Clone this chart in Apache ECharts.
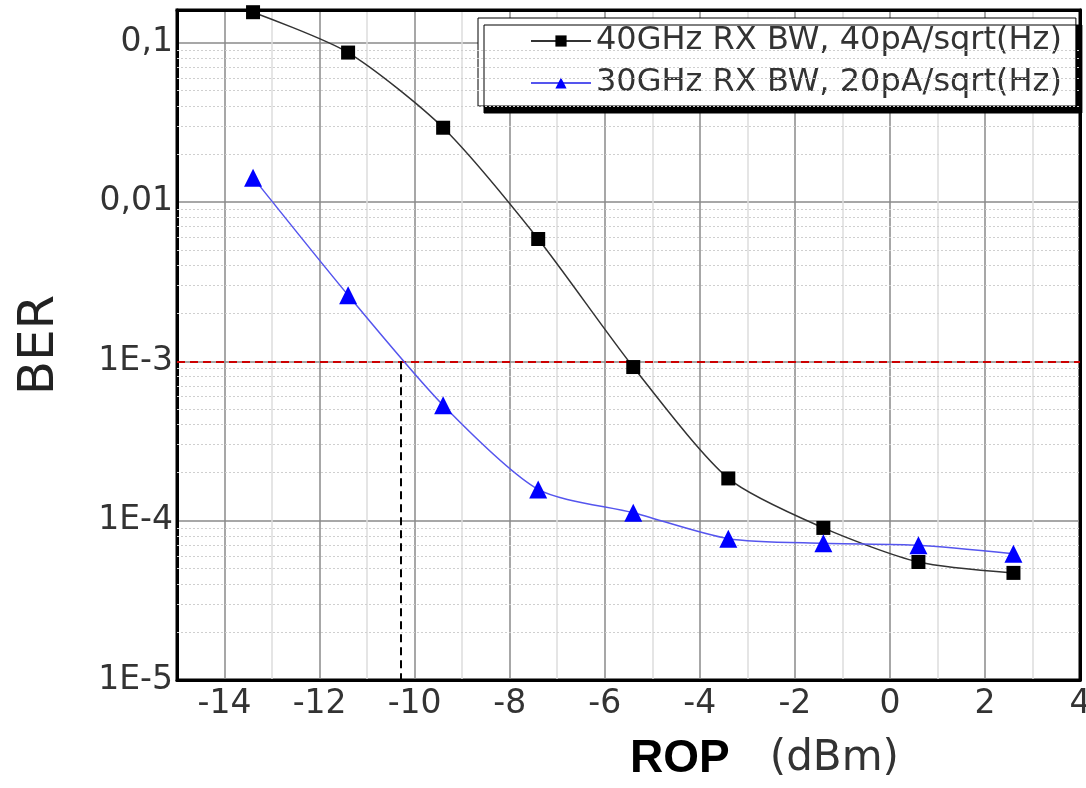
<!DOCTYPE html>
<html>
<head>
<meta charset="utf-8">
<script src="https://cdn.jsdelivr.net/npm/echarts@6/dist/echarts.min.js"></script>
<style>
  html, body { margin: 0; padding: 0; background: #fff; }
  #chart { width: 1086px; height: 788px; }
</style>
</head>
<body>
<div id="chart"></div>
<script>
// ROP in dBm, same for both curves
var rop = [-13.4, -11.4, -9.4, -7.4, -5.4, -3.4, -1.4, 0.6, 2.6];
var ber40 = [0.155, 0.0865, 0.0292, 0.00585, 9.2e-4, 1.84e-4, 9.0e-5, 5.5e-5, 4.7e-5];
var ber30 = [0.0142, 0.0026, 5.3e-4, 1.57e-4, 1.12e-4, 7.7e-5, 7.2e-5, 7.0e-5, 6.2e-5];
var names = ['40GHz RX BW, 40pA/sqrt(Hz)', '30GHz RX BW, 20pA/sqrt(Hz)'];

var xMin = -15, xMax = 4;
var yMin = 1e-5, yMax = 0.16;
var berLimit = 1e-3;     // FEC threshold (red dashed)
var ropAtLimit = -10.3;  // where the blue curve crosses it

function pairs(xs, ys) {
  var res = [];
  for (var i = 0; i < xs.length; i++) res.push([xs[i], ys[i]]);
  return res;
}

function hLine(v, style) {
  return [{ coord: [xMin, v], lineStyle: style }, { coord: [xMax, v] }];
}

// dotted log minor grid 2..9 per decade
var minorLines = [];
for (var k = -5; k <= -1; k++) {
  for (var m = 2; m <= 9; m++) {
    var v = m * Math.pow(10, k);
    if (v < yMax) minorLines.push(hLine(v, { color: '#cfcfcf', type: [2, 2], width: 1 }));
  }
}

var chart = echarts.init(document.getElementById('chart'));
var font = 'DejaVu Sans';
var frameLine = { show: true, onZero: false, lineStyle: { color: '#000', width: 3 } };

var option = {
  backgroundColor: '#fff',
  animation: false,
  grid: {
    left: 177, top: 10, right: 6, bottom: 108,
    outerBoundsMode: 'none',
    containLabel: false,
    show: true, borderColor: '#000', borderWidth: 3, backgroundColor: '#fff'
  },
  legend: {
    orient: 'vertical',
    left: 478, top: 18,
    padding: [7, 14, 7, 52],
    itemGap: 10,
    itemWidth: 60, itemHeight: 14,
    backgroundColor: '#fff',
    borderColor: '#000', borderWidth: 1,
    shadowColor: '#000', shadowBlur: 0, shadowOffsetX: 6, shadowOffsetY: 7,
    textStyle: { fontFamily: font, fontSize: 32, color: '#333' },
    data: names
  },
  xAxis: [{
    type: 'value',
    min: xMin, max: xMax, interval: 1,
    axisLine: frameLine,
    axisTick: { show: false },
    axisLabel: {
      fontFamily: font, fontSize: 33, color: '#333', margin: 8,
      formatter: function (v) { return (v % 2 === 0) ? String(v) : ''; }
    },
    splitLine: { show: true, lineStyle: { color: ['#dcdcdc', '#8a8a8a'], width: 1.5 } },
    name: '{b|ROP}   (dBm)',
    nameLocation: 'middle',
    nameGap: 56,
    nameTextStyle: {
      fontFamily: font, fontSize: 42, color: '#333',
      padding: [0, 0, 0, 272],
      rich: { b: { fontFamily: 'Liberation Sans', fontWeight: 'bold', fontSize: 46, color: '#000' } }
    }
  }, {
    type: 'value', position: 'top',
    min: xMin, max: xMax, interval: 1,
    axisLine: frameLine, axisTick: { show: false },
    axisLabel: { show: false }, splitLine: { show: false }
  }],
  yAxis: [{
    type: 'log',
    logBase: 10,
    min: yMin, max: yMax,
    axisLine: frameLine,
    axisTick: { show: false },
    axisLabel: {
      fontFamily: font, fontSize: 33, color: '#333', margin: 4,
      formatter: function (v) {
        var k = Math.log10(v), r = Math.round(k);
        if (Math.abs(k - r) > 0.01) return '';
        if (r === -1) return '0,1';
        if (r === -2) return '0,01';
        return '1E' + r;
      }
    },
    splitLine: { show: true, lineStyle: { color: '#8a8a8a', width: 1.5 } },
    name: 'BER',
    nameLocation: 'middle',
    nameRotate: 90,
    nameGap: 112,
    nameTextStyle: { fontFamily: font, fontSize: 50, color: '#222' }
  }, {
    type: 'log', logBase: 10, position: 'right',
    min: yMin, max: yMax,
    axisLine: frameLine, axisTick: { show: false },
    axisLabel: { show: false }, splitLine: { show: false }
  }],
  series: [
    {
      name: names[0],
      type: 'line',
      smooth: 0.25,
      symbol: 'rect', symbolSize: 14,
      itemStyle: { color: '#000' },
      lineStyle: { color: '#333', width: 1.5 },
      data: pairs(rop, ber40),
      z: 5,
      markLine: {
        silent: true,
        symbol: 'none',
        label: { show: false },
        animation: false,
        data: minorLines.concat([
          hLine(berLimit, { color: '#cc0000', type: [8, 5], width: 2 }),
          [
            { coord: [ropAtLimit, berLimit], lineStyle: { color: '#000', type: [8, 5], width: 2 } },
            { coord: [ropAtLimit, yMin] }
          ]
        ])
      }
    },
    {
      name: names[1],
      type: 'line',
      smooth: 0.25,
      symbol: 'triangle', symbolSize: 18,
      itemStyle: { color: '#0000ff' },
      lineStyle: { color: '#5555ee', width: 1.5 },
      data: pairs(rop, ber30),
      z: 5
    }
  ]
};

chart.setOption(option);
</script>
</body>
</html>
